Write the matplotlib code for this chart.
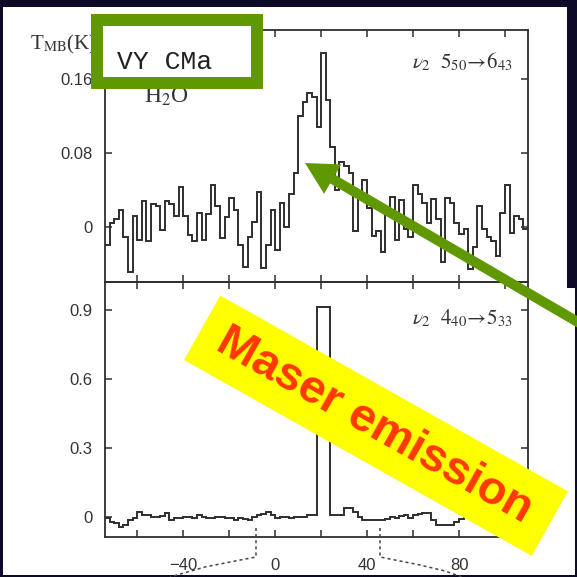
import matplotlib.pyplot as plt
import numpy as np
from matplotlib.patches import Rectangle, FancyArrow
from matplotlib.lines import Line2D

plt.rcParams['mathtext.fontset'] = 'stix'

# channel grid, km/s
v_first = -74.0
v_step = 2.0

# nu2 5(50)->6(43), T_MB (K)
t_550 = [-0.02, 0.004, 0.008, 0.018, -0.011, -0.049, 0.012, -0.014, 0.028, -0.016,
         0.024, 0.022, -0.004, 0.028, 0.024, 0.012, 0.043, 0.012, -0.009, -0.016,
         0.015, -0.014, 0.014, 0.045, 0.022, -0.012, 0.01, 0.031, 0.018, -0.02,
         -0.044, -0.011, 0.005, 0.038, -0.045, -0.02, 0.018, -0.025, 0.026, 0.0,
         0.035, 0.058, 0.12, 0.135, 0.145, 0.14, 0.108, 0.188, 0.137, 0.086,
         0.04, 0.07, 0.066, 0.058, -0.005, 0.03, 0.05, 0.02, -0.01, -0.005,
         -0.028, 0.015, 0.032, -0.014, 0.029, -0.003, -0.011, 0.045, 0.035, 0.026,
         0.004, 0.03, 0.008, -0.038, 0.031, 0.026, 0.004, -0.008, -0.003, -0.046,
         -0.022, 0.022, -0.003, -0.011, -0.016, -0.032, 0.015, 0.045, -0.007, 0.011,
         0.008, -0.003]

# nu2 4(40)->5(33), T_MB (K)
t_440 = [-0.004, -0.02, -0.026, -0.043, -0.035, -0.015, -0.004, 0.02, 0.009, 0.009,
         0.0, 0.0, 0.005, 0.017, -0.013, -0.004, -0.004, 0.0, -0.002, -0.004,
         0.009, 0.0, -0.004, -0.004, 0.0, -0.002, -0.004, -0.004, -0.013, -0.004,
         -0.01, -0.013, 0.0, 0.009, 0.015, 0.02, 0.009, -0.004, 0.0, 0.0,
         -0.004, 0.0, 0.0, 0.0, 0.009, 0.009, 0.91, 0.91, 0.91, 0.009,
         0.009, 0.009, 0.04, 0.04, 0.02, 0.0, -0.013, -0.013, -0.013, -0.013,
         -0.013, -0.01, 0.0, -0.004, 0.005, 0.009, -0.004, 0.009, 0.015, 0.017,
         0.017, -0.013, -0.035, -0.035, -0.035, -0.035, -0.02, -0.01, 0.0, 0.005,
         -0.01, -0.02, -0.01, 0.0, 0.01, 0.0, -0.01, 0.005, 0.01, 0.0,
         -0.005, 0.0]

x_major = [-40, 0, 40, 80]
x_minor = [-60, -20, 20, 60, 100]
top_yticks = [0, 0.08, 0.16]
top_ylabels = ['0', '0.08', '0.16']
bot_yticks = [0, 0.3, 0.6, 0.9]
bot_ylabels = ['0', '0.3', '0.6', '0.9']

W = 577.0
def fx(px):
    return px / W
def fy(py):
    return 1 - py / W

ink = '#2e2e2e'
green = '#5f9800'

fig = plt.figure(figsize=(5.77, 5.77), dpi=100)
fig.patch.set_facecolor('#0d0a28')
fig.add_artist(Rectangle((fx(3), fy(575)), fx(564), 568 / W, transform=fig.transFigure,
                         facecolor='white', edgecolor='none', zorder=-2))
fig.add_artist(Rectangle((fx(3), fy(575)), fx(572), 287 / W, transform=fig.transFigure,
                         facecolor='white', edgecolor='none', zorder=-2))

ax1 = fig.add_axes([fx(105), fy(282), fx(423), 252 / W])
ax2 = fig.add_axes([fx(105), fy(537), fx(423), 255 / W])

edges = v_first + v_step * np.arange(len(t_550) + 1)
ax1.stairs(t_550, edges, baseline=None, color=ink, lw=1.4)
edges2 = v_first + v_step * np.arange(len(t_440) + 1)
ax2.stairs(t_440, edges2, baseline=None, color=ink, lw=1.4)

for ax in (ax1, ax2):
    ax.set_facecolor('none')
    ax.set_xlim(-74, 110)
    ax.set_xticks(x_major)
    ax.set_xticks(x_minor, minor=True)
    ax.tick_params(which='both', direction='in', top=True, right=True,
                   length=5, width=1.1, color=ink, labelsize=12, labelcolor='#333333')
    for s in ax.spines.values():
        s.set_color(ink)
        s.set_linewidth(1.3)

ax1.set_ylim(-0.06, 0.213)
ax1.set_yticks(top_yticks, top_ylabels)
ax1.tick_params(axis='y', pad=9)
ax1.tick_params(axis='x', labelbottom=False)

ax2.set_ylim(-0.087, 1.02)
ax2.set_yticks(bot_yticks, bot_ylabels)
ax2.tick_params(axis='y', pad=9)
ax2.tick_params(axis='x', pad=15)
for ax in (ax1, ax2):
    for lab in ax.get_xticklabels() + ax.get_yticklabels():
        lab.set_family('Liberation Sans')

ax1.text(0.965, 0.875, r'$\nu_2\ \ 5_{50}\!\rightarrow\!6_{43}$', transform=ax1.transAxes,
         ha='right', va='center', fontsize=15, color='#333333')
ax2.text(0.965, 0.86, r'$\nu_2\ \ 4_{40}\!\rightarrow\!5_{33}$', transform=ax2.transAxes,
         ha='right', va='center', fontsize=15, color='#333333')

fig.text(fx(30), fy(44), r'T$_{\rm MB}$(K)', fontsize=15, family='Liberation Serif',
         va='center', color='#333333')
fig.text(fx(144), fy(97), r'H$_2$O', fontsize=17, family='Liberation Serif',
         va='center', color='#333333')

# dotted connectors to the panel below
for xs, ys in (([256, 256, 230, 205, 170], [528, 557, 562, 567, 577]),
               ([380, 380, 420, 445, 462], [528, 557, 565, 571, 577])):
    fig.add_artist(Line2D([fx(x) for x in xs], [fy(y) for y in ys], transform=fig.transFigure,
                          color='#444444', lw=1.1, ls=(0, (2, 2)), zorder=3))

# green box around the source name
fig.add_artist(Rectangle((fx(97), fy(83)), fx(160), 63 / W, transform=fig.transFigure,
                         facecolor='white', edgecolor=green, lw=8.6, zorder=5))
fig.text(fx(117), fy(62), 'VY CMa', fontsize=19, family='Liberation Mono',
         va='center', color='#222222', zorder=6)

# arrow to the thermal line
fig.add_artist(FancyArrow(fx(600), fy(335), fx(305) - fx(600), fy(163) - fy(335),
                          width=10 / W, head_width=34 / W, head_length=32 / W,
                          length_includes_head=True, transform=fig.transFigure,
                          facecolor=green, edgecolor='none', zorder=6))

# yellow label
fig.add_artist(Rectangle((fx(184), fy(360)), 399 / W, 74 / W, angle=-29.4,
                         transform=fig.transFigure, facecolor='#ffff00',
                         edgecolor='none', zorder=7))
fig.text(fx(374), fy(426), 'Maser emission', rotation=-29.4, rotation_mode='anchor',
         ha='center', va='center', fontsize=34, fontweight='bold',
         family='Liberation Sans', color='#ff3800', zorder=8)

fig.savefig('out.png', dpi=100, facecolor=fig.get_facecolor())
